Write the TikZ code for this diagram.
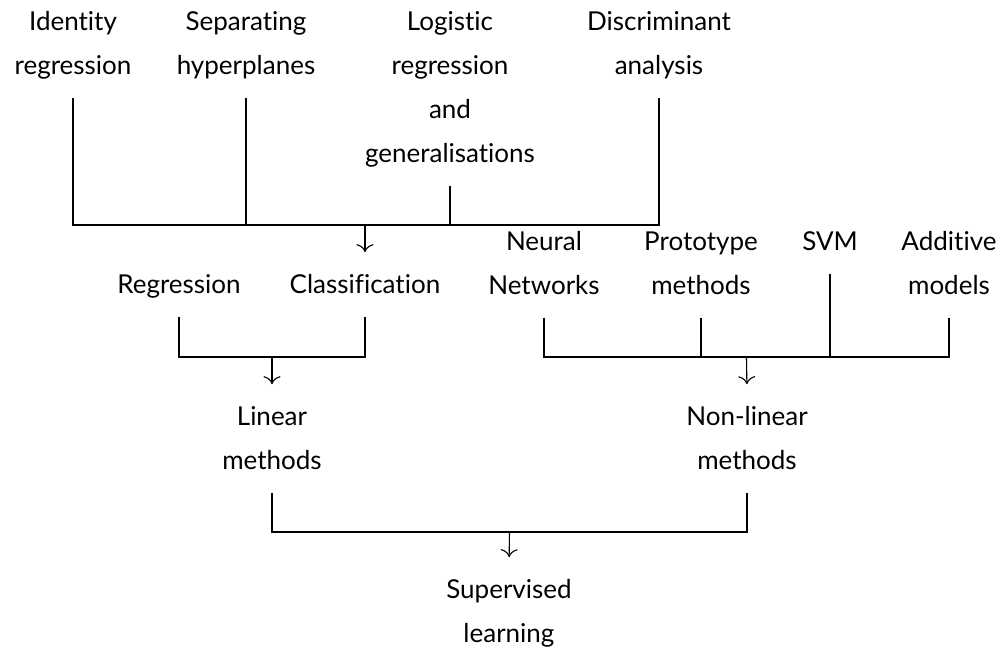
\documentclass[tikz,border=0pt]{standalone}
\usepackage{fontspec}
\setmainfont{Lato}[Ligatures={NoCommon,NoRare,NoDiscretionary}]
\usetikzlibrary{arrows.meta}
\begin{document}
\begin{tikzpicture}[x=1pt,y=-1pt,
  lbl/.style={anchor=north,inner sep=0pt,align=center,font={\fontsize{26}{44}\selectfont}},
  conn/.style={line width=1.1pt,shorten <=10pt},
  arr/.style={line width=1.1pt,-{To[length=8pt,width=17pt]},shorten >=10pt}]
\useasboundingbox (0,0) rectangle (1005,652);
% row 1
\node[lbl] (id)  at (73,-0.8)  {\strut Identity\\regression\strut};
\node[lbl] (sep) at (246,-0.8) {\strut Separating\\hyperplanes\strut};
\node[lbl] (log) at (450,-0.8) {\strut Logistic\\regression\\and\\generalisations\strut};
\node[lbl] (dis) at (659,-0.8) {\strut Discriminant\\analysis\strut};
% row 2
\node[lbl] (reg) at (179,262.2) {\strut Regression};
\node[lbl] (cls) at (365,262.2) {\strut Classification};
\node[lbl] (nn)  at (544,219.2) {\strut Neural\\Networks\strut};
\node[lbl] (pro) at (701,219.2) {\strut Prototype\\methods\strut};
\node[lbl] (svm) at (830,219.2) {\strut SVM};
\node[lbl] (add) at (949,219.2) {\strut Additive\\models\strut};
% row 3
\node[lbl] (lin) at (272,394.2) {\strut Linear\\methods\strut};
\node[lbl] (nl)  at (747,394.2) {\strut Non-linear\\methods\strut};
% row 4
\node[lbl] (sup) at (509,567.2) {\strut Supervised\\learning\strut};
% junctions
\coordinate (j1) at (365,225);
\coordinate (j2) at (272,357);
\coordinate (j3) at (746.5,357);
\coordinate (j4) at (509.5,532);
% connectors
\draw[conn,shorten >=10pt] (id.south) -- (id.south |- j1) -| (dis.south);
\draw[conn] (sep.south) -- (sep.south |- j1);
\draw[conn] (log.south) -- (log.south |- j1);
\draw[arr] (j1) -- (cls.north);
\draw[conn,shorten >=10pt] (reg.south) -- (reg.south |- j2) -| (cls.south);
\draw[arr] (j2) -- (lin.north);
\draw[conn,shorten >=10pt] (nn.south) -- (nn.south |- j3) -| (add.south);
\draw[conn] (pro.south) -- (pro.south |- j3);
\draw[conn] (svm.south) -- (svm.south |- j3);
\draw[arr] (j3) -- (nl.north);
\draw[conn,shorten >=10pt] (lin.south) -- (lin.south |- j4) -| (nl.south);
\draw[arr] (j4) -- (sup.north);
\end{tikzpicture}
\end{document}
